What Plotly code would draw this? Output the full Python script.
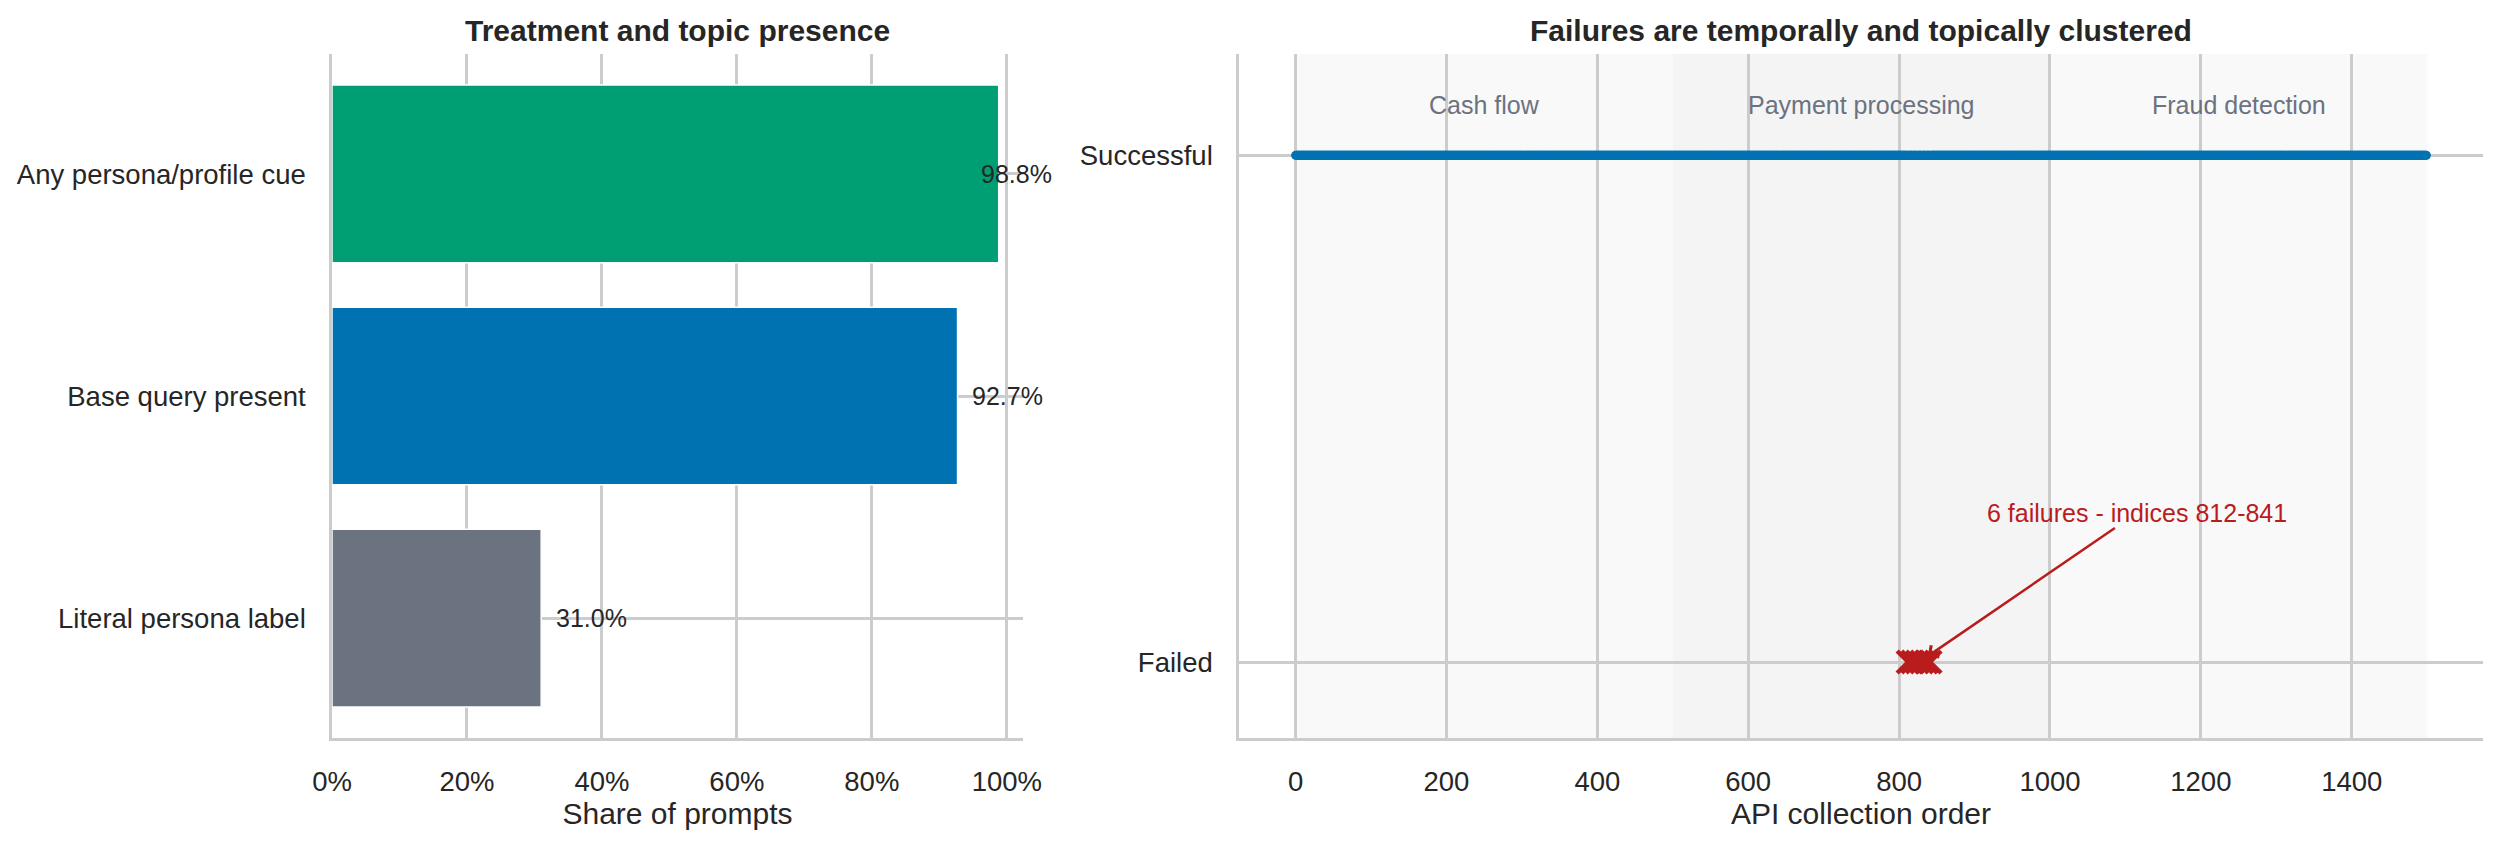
import plotly.graph_objects as go

# left panel: share of prompts with each cue
cue_labels = ["Any persona/profile cue", "Base query present", "Literal persona label"]
cue_shares = [0.988, 0.927, 0.310]
cue_colors = ["#009E73", "#0072B2", "#6B7280"]
pct_ticks = [0, 0.2, 0.4, 0.6, 0.8, 1.0]
pct_text = ["0%", "20%", "40%", "60%", "80%", "100%"]

# right panel: API collection order
n_prompts = 1500
failed_idx = [812, 818, 824, 830, 836, 841]
topic_names = ["Cash flow", "Payment processing", "Fraud detection"]
topic_start = [0, 500, 1000]
topic_end = [500, 1000, 1500]
topic_fill = ["#f9f9f9", "#f4f4f4", "#f9f9f9"]
order_ticks = [0, 200, 400, 600, 800, 1000, 1200, 1400]

ok_idx = [i for i in range(n_prompts) if i not in failed_idx]

# page body has an 8px margin, so the figure is a bit smaller than the window
PAD = 8
W, H = 2500 - 2 * PAD, 844 - 2 * PAD
FONT = "Liberation Sans, Arial, sans-serif"
INK = "#262626"
GRID = "#cccccc"
RED = "#B91C1C"


def px_x(p):
    return (p - PAD) / W


def px_y(p):
    return 1 - (p - PAD) / H


fig = go.Figure()

fig.add_trace(go.Bar(
    x=cue_shares, y=cue_labels, orientation="h",
    marker=dict(color=cue_colors, line=dict(color="white", width=1.5)),
    width=0.8, xaxis="x", yaxis="y", showlegend=False,
))

fig.add_trace(go.Scatter(
    x=ok_idx, y=[1] * len(ok_idx), mode="markers",
    marker=dict(size=9, color="#0072B2"),
    xaxis="x2", yaxis="y2", showlegend=False,
))
fig.add_trace(go.Scatter(
    x=failed_idx, y=[0] * len(failed_idx), mode="markers",
    marker=dict(symbol="x-thin", size=22, line=dict(color=RED, width=4.5)),
    xaxis="x2", yaxis="y2", showlegend=False,
))

annotations = []
for lab, v in zip(cue_labels, cue_shares):
    annotations.append(dict(
        x=min(v + 0.01, 0.95), y=lab, xref="x", yref="y", xshift=6,
        text=f"{v * 100:.1f}%", showarrow=False, xanchor="left",
        font=dict(size=25, color=INK),
    ))

shapes = []
for name, a, b, c in zip(topic_names, topic_start, topic_end, topic_fill):
    shapes.append(dict(
        type="rect", xref="x2", yref="y2 domain", x0=a, x1=b, y0=0, y1=1,
        fillcolor=c, line=dict(width=0), layer="below",
    ))
    annotations.append(dict(
        x=(a + b) / 2, y=1.1, xref="x2", yref="y2", text=name,
        showarrow=False, font=dict(size=25, color="#6B7280"),
    ))

annotations.append(dict(
    x=sum(failed_idx) / len(failed_idx), y=0, xref="x2", yref="y2",
    ax=1116, ay=0.295, axref="x2", ayref="y2",
    text="6 failures - indices 812-841", showarrow=True,
    arrowhead=4, arrowsize=1.1, arrowwidth=2.5, arrowcolor=RED, standoff=10,
    font=dict(size=25, color=RED),
))

annotations.append(dict(
    x=px_x((332 + 1023) / 2), y=px_y(30), xref="paper", yref="paper",
    xanchor="center", yanchor="middle",
    text="<b>Treatment and topic presence</b>", showarrow=False,
    font=dict(size=30, color=INK),
))
annotations.append(dict(
    x=px_x((1239 + 2483) / 2), y=px_y(30), xref="paper", yref="paper",
    xanchor="center", yanchor="middle",
    text="<b>Failures are temporally and topically clustered</b>", showarrow=False,
    font=dict(size=30, color=INK),
))

axis_common = dict(
    showline=True, linecolor=GRID, linewidth=2.5, gridcolor=GRID, gridwidth=2.5,
    zeroline=False, ticks="outside", tickcolor="rgba(0,0,0,0)",
    tickfont=dict(size=27.5, color=INK), automargin=False,
)

fig.update_layout(
    width=W, height=H,
    margin=dict(l=0, r=0, t=0, b=0),
    paper_bgcolor="white", plot_bgcolor="white",
    font=dict(family=FONT, color=INK),
    xaxis=dict(
        domain=[px_x(332), px_x(1023)], range=[0, 1.024],
        tickvals=pct_ticks, ticktext=pct_text, ticklen=17,
        title=dict(text="Share of prompts", font=dict(size=30, color=INK), standoff=6),
        anchor="y", **axis_common,
    ),
    yaxis=dict(
        domain=[px_y(738), px_y(54)], range=[2.54, -0.54], type="category",
        ticklen=18, anchor="x", **axis_common,
    ),
    xaxis2=dict(
        domain=[px_x(1239), px_x(2483)], range=[-75, 1574],
        tickvals=order_ticks, ticklen=17,
        title=dict(text="API collection order", font=dict(size=30, color=INK), standoff=6),
        anchor="y2", **axis_common,
    ),
    yaxis2=dict(
        domain=[px_y(738), px_y(54)], range=[-0.15, 1.2],
        tickvals=[0, 1], ticktext=["Failed", "Successful"],
        ticklen=18, anchor="x2", **axis_common,
    ),
    shapes=shapes,
    annotations=annotations,
)

fig.write_html("out.html")
